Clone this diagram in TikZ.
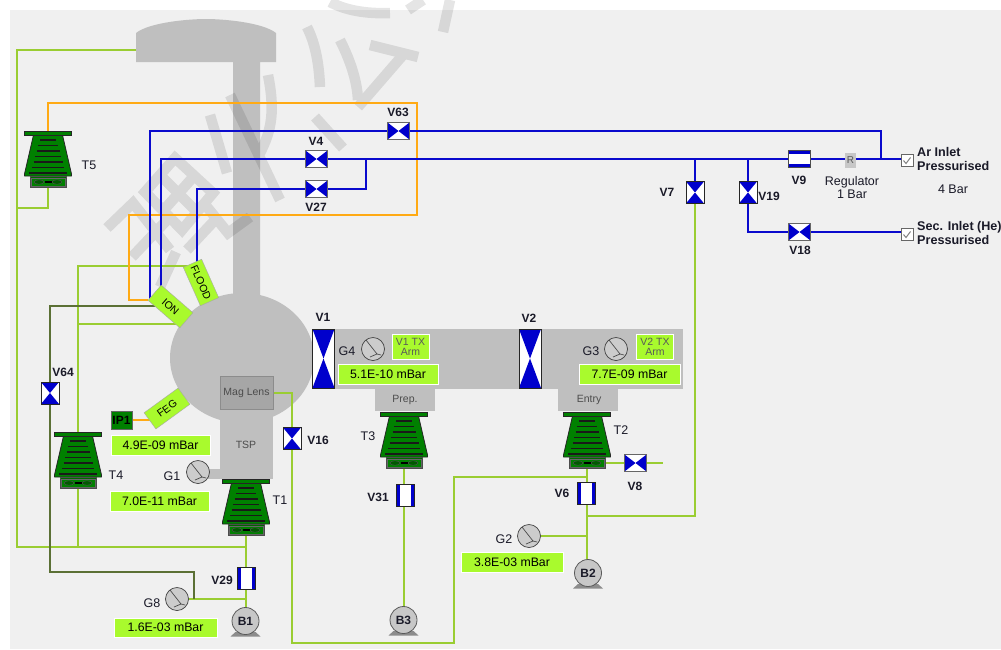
\documentclass[tikz,border=0pt]{standalone}
\usepackage{fontspec}
\setmainfont{Liberation Sans}
\pgfdeclarelayer{back}
\pgfdeclarelayer{pipes}
\pgfsetlayers{back,pipes,main}
\definecolor{bgc}{HTML}{F0F0F0}
\definecolor{cham}{HTML}{BFBFBF}
\definecolor{vblue}{HTML}{0000CC}
\definecolor{pblue}{HTML}{0A0ACD}
\definecolor{porange}{HTML}{FFAA14}
\definecolor{pgreen}{HTML}{9ACD32}
\definecolor{pdark}{HTML}{5B7035}
\definecolor{lime}{HTML}{A9FA2D}
\definecolor{pumpg}{HTML}{008000}
\definecolor{txt}{HTML}{1A1A28}
\tikzset{
 bluep/.style={draw=pblue,line width=2pt},
 orangep/.style={draw=porange,line width=2pt},
 greenp/.style={draw=pgreen,line width=2pt},
 darkp/.style={draw=pdark,line width=2pt},
 lab/.style={font=\fontsize{12}{12}\selectfont\bfseries,text=txt,inner sep=0pt},
 labb/.style={font=\fontsize{12.6}{12.6}\selectfont\bfseries,text=txt,inner sep=0pt},
 reg/.style={font=\fontsize{12.5}{12.5}\selectfont,text=txt,inner sep=0pt},
 small/.style={font=\fontsize{10.5}{11}\selectfont,text=black!70,inner sep=0pt},
 valvebase/.style={rectangle,fill=white,inner sep=0pt,line width=1pt},
 vh/.style={valvebase,draw=black!60,minimum width=22pt,minimum height=17pt,
  path picture={\fill[vblue] (path picture bounding box.north west)--(path picture bounding box.center)--(path picture bounding box.south west)--cycle;
  \fill[vblue] (path picture bounding box.north east)--(path picture bounding box.center)--(path picture bounding box.south east)--cycle;}},
 vv/.style={valvebase,draw=black!85,minimum width=18pt,minimum height=22pt,
  path picture={\fill[vblue] (path picture bounding box.north west)--(path picture bounding box.center)--(path picture bounding box.north east)--cycle;
  \fill[vblue] (path picture bounding box.south west)--(path picture bounding box.center)--(path picture bounding box.south east)--cycle;}},
 vbig/.style={vv,minimum width=22pt,minimum height=59pt},
 openh/.style={valvebase,draw=black!70,minimum width=22pt,minimum height=17pt,
  path picture={\fill[vblue] (path picture bounding box.north west) rectangle ([yshift=-3.5pt]path picture bounding box.north east);
  \fill[vblue] (path picture bounding box.south west) rectangle ([yshift=3.5pt]path picture bounding box.south east);}},
 openv/.style={valvebase,draw=black!85,minimum width=18pt,minimum height=22pt,
  path picture={\fill[vblue] (path picture bounding box.north west) rectangle ([xshift=3.5pt]path picture bounding box.south west);
  \fill[vblue] (path picture bounding box.north east) rectangle ([xshift=-3.5pt]path picture bounding box.south east);}},
 vbox/.style={rectangle,fill=lime,draw=white,line width=.7pt,inner sep=0pt,font=\fontsize{12.3}{12}\selectfont,text=black},
 tag/.style={rectangle,fill=lime,draw=black!35,line width=.4pt,inner sep=0pt,minimum width=42pt,minimum height=20pt,font=\fontsize{10.5}{10.5}\selectfont,text=black},
 armbox/.style={vbox,minimum width=37pt,minimum height=25pt,align=center,font=\fontsize{10.5}{11}\selectfont,text=black!65},
 gauge/.style={circle,draw=black!75,fill=black!20,line width=.7pt,minimum size=23pt,inner sep=0pt,
  path picture={\draw[black!70,line width=.7pt] ([shift={(-7pt,9pt)}]path picture bounding box.center)--([shift={(4pt,-5pt)}]path picture bounding box.center)--([shift={(-3pt,-8pt)}]path picture bounding box.center);
  \draw[black!70,line width=.7pt] ([shift={(4pt,-5pt)}]path picture bounding box.center)--([shift={(8pt,-6pt)}]path picture bounding box.center);}},
 blower/.style={circle,draw=black!65,fill=black!22,line width=.8pt,minimum size=27pt,inner sep=0pt,font=\fontsize{12}{12}\selectfont\bfseries,text=txt},
 chk/.style={rectangle,draw=black!60,fill=white,line width=.7pt,minimum size=12pt,inner sep=0pt,
  path picture={\draw[black!50,line width=1pt] ([shift={(-3.5pt,0pt)}]path picture bounding box.center)--([shift={(-1pt,-3pt)}]path picture bounding box.center)--([shift={(3.5pt,3pt)}]path picture bounding box.center);}},
 pumpanchor/.style={rectangle,inner sep=0pt,minimum width=47pt,minimum height=56pt},
 wm/.style={draw=black,line width=10.5pt},
}
\newcommand{\pump}[3]{%
 \begin{scope}[shift={(#2,#3)}]
  \fill[pumpg,draw=black!85,line width=.8pt,line join=round] (-14.5,4)--(14.5,4)--(23.5,43)--(23.5,45)--(-23.5,45)--(-23.5,43)--cycle;
  \fill[pumpg!80!black,draw=black!70,line width=.7pt] (-18,45) rectangle (18,56);
  \fill[pumpg,draw=black!60,line width=.5pt] (-17,47) rectangle (17,55.5);
  \fill[pumpg!70!black,draw=black!70,line width=.5pt] (-9,51) ellipse (5 and 2.2) (9,51) ellipse (5 and 2.2);
  \fill[black] (-3.5,50) rectangle (3.5,52);
  \fill[pumpg,draw=black!85,line width=.6pt] (-23.5,0) rectangle (23.5,4);
  \foreach \yy/\ww in {9/8,14.5/10,20/11.5,25.5/13,31/14.5,36.5/16,42/19}{\draw[black!90,line width=1.1pt] (-\ww,\yy)--(\ww,\yy);}
 \end{scope}
 \node[pumpanchor] (#1) at (#2,#3+28) {};}
\newcommand{\blowerbase}[2]{\fill[black!45] (#1-10,#2+11)--(#1+10,#2+11)--(#1+15,#2+15.5)--(#1-15,#2+15.5)--cycle;}
\begin{document}
\begin{tikzpicture}[x=1pt,y=-1pt,line cap=butt]
\useasboundingbox (0,0) rectangle (1001,649);
\begin{pgfonlayer}{back}
 \fill[white] (0,0) rectangle (1001,649);
 \fill[bgc] (10,10) rectangle (1001,649);
 % chamber
 \fill[cham] (136,62)--(136,33) .. controls (150,22) and (190,19) .. (206,19) .. controls (222,19) and (262,22) .. (276,33) -- (276,62)--(260,62)--(260,300)--(233,300)--(233,62)--cycle;
 \fill[cham] (242,358) ellipse (72 and 65);
 \fill[cham] (313,329) rectangle (683,389);
 \fill[cham] (375,389) rectangle (435,411);
 \fill[cham] (558,389) rectangle (618,411);
 \fill[cham] (220,405) rectangle (273,479);
 \fill[cham] (208,469) rectangle (220,479);
 % watermark
 \begin{scope}[transparency group,opacity=.1]
 \draw[wm] (175,158)--(145,192)--(182,230)--(213,193)--cycle;
 \draw[wm] (160,175)--(197,212);
 \draw[wm] (162,212)--(195,175);
 \draw[wm] (107,228)--(133,203)--(170,250);
 \draw[wm] (132,257)--(167,220);
 \draw[wm] (187,250)--(215,220);
 \draw[wm] (207,207)--(228,233)--(250,217);
 \draw[wm] (176,252)--(160,287);
 \draw[wm] (230,95)--(280,200);
 \draw[wm] (268,75) .. controls (275,110) and (272,130) .. (260,153);
 \draw[wm] (210,115)--(227,173);
 \draw[wm] (307,27) .. controls (316,45) and (319,65) .. (320,87);
 \draw[wm] (340,40) .. controls (350,60) and (357,80) .. (358,100);
 \draw[wm] (358,107)--(403,55);
 \draw[wm] (370,45)--(418,57);
 \draw[wm] (330,2) .. controls (345,10) and (365,14) .. (390,13);
 \draw[wm] (408,10)--(423,0);
 \draw[wm] (443,32)--(450,0);
 \draw[wm] (315,117)--(343,148);
 \end{scope}
\end{pgfonlayer}

% named chamber labels
\node[rectangle,fill=black!35,draw=black!45,line width=.7pt,minimum width=53pt,minimum height=33pt,inner sep=0pt,font=\fontsize{10.5}{11}\selectfont,text=black!70] (MAG) at (246.5,397) [yshift=4.5pt] {Mag Lens};
\node[small] (TSP) at (246,445) {TSP};
\node[small] (PREP) at (405,400) {Prep.};
\node[small] (ENTRY) at (589,400) {Entry};
\coordinate (CAP) at (136,50);

% tags
\node[tag,rotate=-41] (ION) at (170.5,306.5) {ION};
\node[tag,rotate=-66] (FLOOD) at (201,282.5) {FLOOD};
\node[tag,rotate=36] (FEG) at (167,408.5) {FEG};
\node[rectangle,fill=green!50!black,draw=black!60,line width=.7pt,minimum width=21pt,minimum height=18pt,inner sep=0pt,font=\fontsize{12}{12}\selectfont\bfseries,text=black] (IP1) at (121.5,420) {IP1};

% pumps
\pump{T5}{48}{131}
\pump{T4}{78}{432}
\pump{T1}{246}{479}
\pump{T3}{404}{412}
\pump{T2}{587}{412}

% valves
\node[vh] (V63) at (398.5,131) {};
\node[vh] (V4) at (316.5,159) {};
\node[vh] (V27) at (316.5,189) {};
\node[vh] (V18) at (799.5,232) {};
\node[vh] (V8) at (635.5,463) {};
\node[openh] (V9) at (799.5,159) {};
\node[vv] (V7) at (695,192.5) {};
\node[vv] (V19) at (748,192.5) {};
\node[vv] (V64) at (50,393) {};
\node[vv] (V16) at (292,438.5) {};
\node[openv] (V29) at (246.5,578.5) {};
\node[openv] (V31) at (405.5,495.5) {};
\node[openv] (V6) at (586.5,493.5) {};
\node[vbig] (V1) at (323.5,358.5) {};
\node[vbig] (V2) at (530,358.5) {};

% regulator, checkboxes
\node[rectangle,fill=black!22,inner sep=0pt,minimum width=11pt,minimum height=15pt,font=\fontsize{10}{10}\selectfont,text=black!65] (R) at (850.5,160) {R};
\node[chk] (CA) at (907,160.5) {};
\node[chk] (CS) at (907,234.5) {};

% gauges
\node[gauge] (G1) at (198,472) {};
\node[gauge] (G8) at (177,599) {};
\node[gauge] (G4) at (373,349) {};
\node[gauge] (G3) at (616,349) {};
\node[gauge] (G2) at (529,536) {};

% blowers
\blowerbase{245.5}{621}\node[blower] (B1) at (245.5,621) {B1};
\blowerbase{403.5}{620}\node[blower] (B3) at (403.5,620) {B3};
\blowerbase{588}{573}\node[blower] (B2) at (588,573) {B2};

% value boxes
\node[vbox,minimum width=99pt,minimum height=20pt] (P1) at (160.5,445) {4.9E-09 mBar};
\node[vbox,minimum width=99pt,minimum height=20pt] (P2) at (159.5,501) {7.0E-11 mBar};
\node[vbox,minimum width=103pt,minimum height=19pt] (P3) at (165.5,627.5) {1.6E-03 mBar};
\node[vbox,minimum width=100pt,minimum height=20pt] (P4) at (388,374) {5.1E-10 mBar};
\node[vbox,minimum width=101pt,minimum height=20pt] (P5) at (629.5,374) {7.7E-09 mBar};
\node[vbox,minimum width=102pt,minimum height=20pt] (P6) at (512,562) {3.8E-03 mBar};
\node[armbox] (A1) at (410.5,346.5) {V1 TX\\[-1pt]Arm};
\node[armbox] (A2) at (655,346.5) {V2 TX\\[-1pt]Arm};

% junctions
\coordinate (arJ) at (881,159);
\coordinate (v27J) at (366,159);
\coordinate (v7J) at (695,159);
\coordinate (v19J) at (748,159);
\coordinate (cornerT5) at (48,103);
\coordinate (oTR) at (417,103);
\coordinate (oBR) at (417,215);
\coordinate (oBL) at (129,215);
\coordinate (ionO) at (148,300);
\coordinate (ionD) at (160,306);
\coordinate (ionG) at (178,324);
\coordinate (ionB1) at (150,300);
\coordinate (ionB2) at (161,288);
\coordinate (floodB) at (197,264);
\coordinate (floodG) at (190,266);
\coordinate (leftTop) at (17,50);
\coordinate (leftBot) at (17,547);
\coordinate (t1J) at (246,547);
\coordinate (t4J) at (78,547);
\coordinate (t4top) at (78,266);
\coordinate (t4mid) at (78,324);
\coordinate (t5J) at (17,208);
\coordinate (g8J) at (246,599);
\coordinate (dkA) at (50,306);
\coordinate (dkB) at (50,572);
\coordinate (dkC) at (194,572);
\coordinate (dkD) at (194,599);
\coordinate (v16B) at (292,643);
\coordinate (lnA) at (454,643);
\coordinate (lnB) at (454,477);
\coordinate (t2J) at (587,477);
\coordinate (v7B) at (695,516);
\coordinate (t2K) at (587,516);
\coordinate (g2J) at (587,536);
\coordinate (v8S) at (605,463);
\coordinate (v8E) at (663,463);

\begin{pgfonlayer}{pipes}
 % green
 \draw[greenp] (CAP)--(leftTop)--(leftBot)--(t1J);
 \draw[greenp] (T5.south) |- (t5J);
 \draw[greenp] (floodG)--(t4top)--(T4.north);
 \draw[greenp] (ionG)--(t4mid);
 \draw[greenp] (T4.south)--(t4J);
 \draw[greenp] (T1.south)--(V29.north -| T1.south);
 \draw[greenp] (V29.south -| T1.south)--(B1.north -| T1.south);
 \draw[greenp] (G8.east)--(g8J);
 \draw[greenp] (MAG.east) -| (V16.north);
 \draw[greenp] (V16.south)--(v16B)--(lnA)--(lnB)--(t2J);
 \draw[greenp] (T3.south)--(V31.north -| T3.south);
 \draw[greenp] (V31.south -| T3.south)--(B3.north -| T3.south);
 \draw[greenp] (T2.south)--(V6.north -| T2.south);
 \draw[greenp] (V6.south -| T2.south)--(B2.north -| T2.south);
 \draw[greenp] (v8S)--(V8.west);
 \draw[greenp] (V8.east)--(v8E);
 \draw[greenp] (V7.south)--(v7B)--(t2K);
 \draw[greenp] (G2.east)--(g2J);
 % dark green
 \draw[darkp] (ionD)--(dkA)--(V64.north);
 \draw[darkp] (V64.south)--(dkB)--(dkC)--(dkD);
 % orange
 \draw[orangep] (T5.north)--(cornerT5)--(oTR)--(oBR)--(oBL)--(oBL |- ionO)--(ionO);
 \draw[orangep] (IP1.east)--(IP1.east -| FEG.west);
 % blue
 \draw[bluep] (ionB1) |- (V63.west);
 \draw[bluep] (V63.east) -| (arJ);
 \draw[bluep] (ionB2) |- (V4.west);
 \draw[bluep] (V4.east)--(V9.west);
 \draw[bluep] (V9.east)--(V9.east -| R.west);
 \draw[bluep] (V9.east -| R.east)--(V9.east -| CA.west);
 \draw[bluep] (floodB) |- (V27.west);
 \draw[bluep] (V27.east) -| (v27J);
 \draw[bluep] (v7J)--(V7.north);
 \draw[bluep] (v19J)--(V19.north);
 \draw[bluep] (V19.south) |- (V18.west);
 \draw[bluep] (V18.east)--(V18.east -| CS.west);
\end{pgfonlayer}

% labels
\node[reg] (lT5) at (89,165) {T5};
\node[lab] (lV4) at (316,141) {V4};
\node[lab] (lV27) at (316,207) {V27};
\node[lab] (lV63) at (398,112) {V63};
\node[lab] (lV1) at (323,317) {V1};
\node[lab] (lV2) at (529,318) {V2};
\node[reg] (lG4) at (347,351) {G4};
\node[reg] (lG3) at (591,351) {G3};
\node[reg] (lT3) at (368,436) {T3};
\node[reg] (lT2) at (621,430) {T2};
\node[lab] (lV31) at (378,497) {V31};
\node[lab] (lV6) at (562,493) {V6};
\node[lab] (lV8) at (635,486) {V8};
\node[reg] (lG2) at (504,539) {G2};
\node[lab] (lV7) at (667,192) {V7};
\node[lab] (lV19) at (769,196) {V19};
\node[lab] (lV9) at (799,180) {V9};
\node[lab] (lV18) at (800,250) {V18};
\node[lab] (lV64) at (63,372) {V64};
\node[lab] (lV16) at (318,440) {V16};
\node[reg] (lT4) at (116,475) {T4};
\node[reg] (lG1) at (172,476) {G1};
\node[reg] (lT1) at (280,500) {T1};
\node[lab] (lV29) at (222,580) {V29};
\node[reg] (lG8) at (152,603) {G8};
\node[reg,align=center] (lReg) at (852,187.5) {Regulator\\[1pt]1 Bar};
\node[labb,anchor=west,align=left] (lAr) at (917,159) {Ar Inlet\\[2pt]Pressurised};
\node[reg] (l4) at (953,189) {4 Bar};
\node[labb,anchor=west,align=left] (lSec) at (917,233) {Sec. Inlet (He)\\[2pt]Pressurised};
\end{tikzpicture}
\end{document}
